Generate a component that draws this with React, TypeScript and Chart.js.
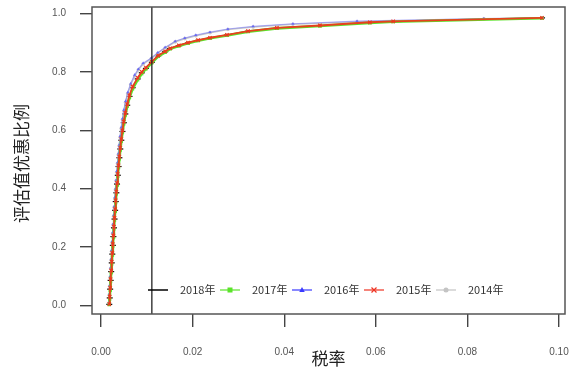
import React, { useEffect, useRef } from "react";
import { Chart, registerables } from "chart.js";

Chart.register(...registerables);

// ---------- data ----------
const years = ["2018年", "2017年", "2016年", "2015年", "2014年"];
const xTitle = "税率";
const yTitle = "评估值优惠比例";
const xTicks = [0, 0.02, 0.04, 0.06, 0.08, 0.1];
const yTicks = [0, 0.2, 0.4, 0.6, 0.8, 1.0];
const cutoffRate = 0.0111;

// rates for 2018 / 2017 / 2015
const rateLow = [
  0.0018, 0.0019, 0.002, 0.0021, 0.00222, 0.00234, 0.00246, 0.00258, 0.0027, 0.00282,
  0.00295, 0.00308, 0.00321, 0.00335, 0.0035, 0.00366, 0.00383, 0.00401, 0.00421, 0.00443,
  0.00468, 0.00497, 0.00531, 0.00572, 0.00622, 0.0069, 0.008, 0.0089, 0.0098, 0.0111,
  0.0125, 0.014, 0.0151, 0.017, 0.019, 0.0212, 0.0238, 0.0275, 0.0321, 0.0384,
  0.0478, 0.0587, 0.0638, 0.0963,
];
const share2018 = [
  0.004, 0.026, 0.056, 0.086, 0.116, 0.146, 0.176, 0.206, 0.236, 0.266,
  0.296, 0.326, 0.356, 0.386, 0.416, 0.446, 0.476, 0.506, 0.536, 0.566,
  0.596, 0.626, 0.656, 0.686, 0.716, 0.746, 0.776, 0.797, 0.812, 0.833,
  0.855, 0.869, 0.88, 0.89, 0.899, 0.908, 0.916, 0.926, 0.939, 0.95,
  0.958, 0.969, 0.972, 0.985,
];
const share2017 = [
  0.003, 0.022, 0.052, 0.082, 0.112, 0.142, 0.172, 0.202, 0.232, 0.262,
  0.292, 0.322, 0.352, 0.382, 0.412, 0.442, 0.472, 0.502, 0.532, 0.562,
  0.592, 0.622, 0.652, 0.682, 0.712, 0.742, 0.773, 0.794, 0.81, 0.831,
  0.853, 0.867, 0.879, 0.889, 0.898, 0.907, 0.915, 0.925, 0.938, 0.949,
  0.957, 0.968, 0.972, 0.984,
];
const share2015 = [
  0.005, 0.03, 0.06, 0.09, 0.12, 0.15, 0.18, 0.21, 0.24, 0.27,
  0.3, 0.33, 0.36, 0.39, 0.42, 0.45, 0.48, 0.51, 0.54, 0.57,
  0.6, 0.63, 0.66, 0.69, 0.72, 0.75, 0.78, 0.8, 0.815, 0.835,
  0.856, 0.87, 0.881, 0.891, 0.9, 0.909, 0.917, 0.927, 0.94, 0.951,
  0.959, 0.97, 0.973, 0.985,
];

// rates for 2016 / 2014
const rateHigh = [
  0.00172, 0.00181, 0.0019, 0.00199, 0.00209, 0.0022, 0.00231, 0.00242, 0.00253, 0.00264,
  0.00276, 0.00288, 0.00301, 0.00315, 0.00329, 0.00344, 0.0036, 0.00378, 0.00397, 0.00418,
  0.00441, 0.00468, 0.00499, 0.00537, 0.00584, 0.00647, 0.00735, 0.00815, 0.0092, 0.011,
  0.0124, 0.014, 0.0162, 0.0183, 0.0207, 0.0238, 0.0277, 0.0332, 0.0419, 0.0559,
  0.0836, 0.0963,
];
const share2016 = [
  0.01, 0.04, 0.07, 0.1, 0.13, 0.16, 0.19, 0.22, 0.25, 0.28,
  0.31, 0.34, 0.37, 0.4, 0.43, 0.46, 0.49, 0.52, 0.55, 0.58,
  0.61, 0.64, 0.67, 0.7, 0.73, 0.76, 0.79, 0.81, 0.83, 0.848,
  0.866, 0.884, 0.905, 0.916, 0.926, 0.936, 0.947, 0.956, 0.965, 0.974,
  0.983, 0.985,
];
const share2014 = [
  0.008, 0.036, 0.066, 0.096, 0.126, 0.156, 0.186, 0.216, 0.246, 0.276,
  0.306, 0.336, 0.366, 0.396, 0.426, 0.456, 0.486, 0.516, 0.546, 0.576,
  0.606, 0.636, 0.666, 0.696, 0.726, 0.756, 0.786, 0.807, 0.827, 0.846,
  0.864, 0.882, 0.903, 0.914, 0.924, 0.934, 0.945, 0.954, 0.963, 0.972,
  0.982, 0.984,
];

// ---------- styling ----------
const X_MIN = -0.00197;
const X_MAX = 0.10131;
const Y_MIN = -0.0291;
const Y_MAX = 1.0223;

const CJK = '"Noto Sans CJK SC", "Noto Sans", sans-serif';
const LATIN = '"Liberation Sans", Arial, sans-serif';

const styles = [
  { color: "#000000", line: "#000000", width: 1.2, marker: "dash", radius: 3, order: 5, legendColor: "#000000" },
  { color: "#5be32a", line: "#5be32a", width: 2.6, marker: "rect", radius: 2.3, order: 2, legendColor: "#5be32a" },
  { color: "rgba(80,80,255,0.7)", line: "rgba(110,110,255,0.5)", width: 1.2, marker: "triangle", radius: 1.8, order: 3, legendColor: "#3a3aff" },
  { color: "#ee3322", line: "#e8401e", width: 1.8, marker: "crossRot", radius: 2.4, order: 1, legendColor: "#ee3322" },
  { color: "#c4c4c4", line: "#c8c8c8", width: 1.6, marker: "circle", radius: 1.8, order: 4, legendColor: "#c4c4c4" },
];

function pts(xs: number[], ys: number[]) {
  return xs.map((x, i) => ({ x, y: ys[i] }));
}

function drawMarker(ctx: CanvasRenderingContext2D, kind: string, x: number, y: number, r: number, color: string) {
  ctx.save();
  ctx.fillStyle = color;
  ctx.strokeStyle = color;
  ctx.lineWidth = 1.2;
  ctx.beginPath();
  if (kind === "rect") {
    ctx.fillRect(x - r, y - r, 2 * r, 2 * r);
  } else if (kind === "triangle") {
    ctx.moveTo(x, y - r * 1.2);
    ctx.lineTo(x + r * 1.1, y + r * 0.8);
    ctx.lineTo(x - r * 1.1, y + r * 0.8);
    ctx.closePath();
    ctx.fill();
  } else if (kind === "crossRot") {
    ctx.moveTo(x - r, y - r);
    ctx.lineTo(x + r, y + r);
    ctx.moveTo(x + r, y - r);
    ctx.lineTo(x - r, y + r);
    ctx.stroke();
  } else if (kind === "circle") {
    ctx.arc(x, y, r, 0, Math.PI * 2);
    ctx.fill();
  }
  ctx.restore();
}

const framePlugin = {
  id: "frame",
  afterDraw(chart: any) {
    const { ctx, chartArea } = chart;
    const { left, right, top, bottom } = chartArea;
    ctx.save();
    ctx.strokeStyle = "#555";
    ctx.lineWidth = 1.5;
    ctx.strokeRect(left, top, right - left, bottom - top);

    // axis titles
    ctx.fillStyle = "#222";
    ctx.font = `17px ${CJK}`;
    ctx.textAlign = "center";
    ctx.textBaseline = "middle";
    ctx.fillText(xTitle, (left + right) / 2, 359);
    ctx.save();
    ctx.translate(22, (top + bottom) / 2 + 3);
    ctx.rotate(-Math.PI / 2);
    ctx.fillText(yTitle, 0, 0);
    ctx.restore();

    // legend
    const ly = bottom - 24;
    ctx.font = `11px ${CJK}`;
    ctx.textAlign = "left";
    years.forEach((label, i) => {
      const st = styles[i];
      const x0 = left + 56 + i * 72;
      ctx.strokeStyle = st.legendColor;
      ctx.lineWidth = i === 0 ? 1.5 : 1.2;
      ctx.beginPath();
      ctx.moveTo(x0, ly);
      ctx.lineTo(x0 + 20, ly);
      ctx.stroke();
      if (st.marker !== "dash") drawMarker(ctx, st.marker, x0 + 10, ly, 2.5, st.legendColor);
      ctx.fillStyle = "#333";
      ctx.fillText(label, x0 + 32, ly);
    });
    ctx.restore();
  },
};

function zeroPadding(scale: any) {
  scale.paddingTop = 0;
  scale.paddingBottom = 0;
  scale.paddingLeft = 0;
  scale.paddingRight = 0;
}

export default function App() {
  const ref = useRef<HTMLCanvasElement | null>(null);

  useEffect(() => {
    if (!ref.current) return;
    const seriesData = [
      pts(rateLow, share2018),
      pts(rateLow, share2017),
      pts(rateHigh, share2016),
      pts(rateLow, share2015),
      pts(rateHigh, share2014),
    ];
    const datasets: any[] = seriesData.map((data, i) => {
      const st = styles[i];
      return {
        label: years[i],
        data,
        showLine: true,
        borderColor: st.line,
        backgroundColor: st.color,
        borderWidth: st.width,
        pointStyle: st.marker === "dash" ? "line" : st.marker,
        pointRadius: st.radius,
        pointBorderWidth: st.marker === "crossRot" || st.marker === "dash" ? 1.2 : 0,
        pointBorderColor: st.color,
        pointBackgroundColor: st.color,
        order: st.order,
        tension: 0,
      };
    });
    datasets.push({
      label: "cutoff",
      data: [
        { x: cutoffRate, y: Y_MIN },
        { x: cutoffRate, y: Y_MAX },
      ],
      showLine: true,
      borderColor: "#222",
      borderWidth: 1.3,
      pointRadius: 0,
      order: 0,
    });

    const chart = new Chart(ref.current, {
      type: "scatter",
      data: { datasets },
      plugins: [framePlugin],
      options: {
        animation: false,
        responsive: false,
        maintainAspectRatio: false,
        events: [],
        layout: { padding: { top: 7, right: 9, left: 0, bottom: 0 } },
        plugins: { legend: { display: false }, tooltip: { enabled: false } },
        scales: {
          x: {
            type: "linear",
            min: X_MIN,
            max: X_MAX,
            afterBuildTicks: (scale: any) => {
              scale.ticks = xTicks.map((v) => ({ value: v }));
            },
            afterFit: (scale: any) => {
              scale.height = 56;
              zeroPadding(scale);
            },
            border: { display: false },
            grid: {
              drawOnChartArea: false,
              drawTicks: true,
              tickLength: 13,
              color: "#444",
              lineWidth: 1.4,
            },
            ticks: {
              padding: 19,
              autoSkip: false,
              maxRotation: 0,
              color: "#555",
              font: { family: LATIN, size: 10 },
              callback: (v: any) => Number(v).toFixed(2),
            },
          },
          y: {
            type: "linear",
            min: Y_MIN,
            max: Y_MAX,
            afterBuildTicks: (scale: any) => {
              scale.ticks = yTicks.map((v) => ({ value: v }));
            },
            afterFit: (scale: any) => {
              scale.width = 92;
              zeroPadding(scale);
            },
            border: { display: false },
            grid: {
              drawOnChartArea: false,
              drawTicks: true,
              tickLength: 12,
              color: "#444",
              lineWidth: 1.4,
            },
            ticks: {
              padding: 14,
              autoSkip: false,
              color: "#555",
              font: { family: LATIN, size: 10 },
              callback: (v: any) => Number(v).toFixed(1),
            },
          },
        },
      },
    });
    return () => chart.destroy();
  }, []);

  return (
    <div style={{ position: "absolute", left: 0, top: 0, width: 574, height: 370, background: "#fff" }}>
      <canvas ref={ref} width={574} height={370} style={{ width: 574, height: 370, display: "block" }} />
    </div>
  );
}
